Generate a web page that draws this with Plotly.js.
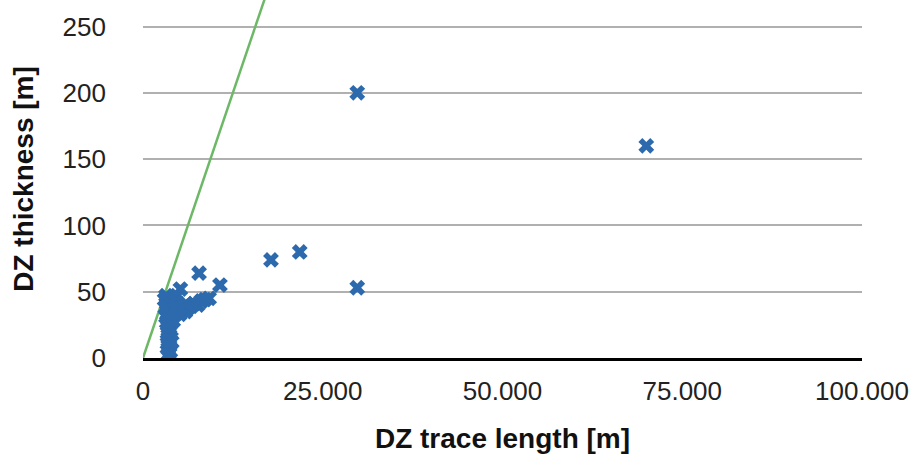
<!DOCTYPE html>
<html>
<head>
<meta charset="utf-8">
<script src="https://cdn.plot.ly/plotly-3.0.1.min.js"></script>
<style>html,body{margin:0;padding:0;background:#fff;}#chart{width:918px;height:459px;}</style>
</head>
<body>
<div id="chart"></div>
<script>
// DZ trace length [m]
const traceLength = [
  3200, 3000, 3500, 3300, 3700, 3100, 3600, 3400, 3800, 3200,
  3600, 3300, 3700, 3500, 3900, 3400, 3700, 3500, 3800, 3400,
  3700, 3500, 3800, 3600, 3400, 4000, 4200, 4500, 4700, 5200,
  4300, 4700, 5100, 5500, 5900, 6300, 6700, 7100, 7600, 8100,
  8600, 9200, 6000, 5000, 4600,
  7800, 10700, 17800, 21800, 29800, 29800, 70000
];
// DZ thickness [m]
const thickness = [
  47, 44, 45, 41, 42, 38, 37, 34, 33, 31,
  29, 27, 25, 23, 21, 19, 17, 15, 13, 11,
  9, 7, 5, 3, 2, 12, 28, 43, 47, 52,
  32, 34, 33, 36, 35, 38, 39, 41, 40, 43,
  44, 45, 41, 38, 39,
  64, 55, 74, 80, 200, 53, 160
];
// reference line
const lineX = [0, 18000];
const lineY = [0, 288];
const xTicks = [0, 25000, 50000, 75000, 100000];
const yTicks = [0, 50, 100, 150, 200, 250];

const font = "'Liberation Sans', Arial, Helvetica, sans-serif";

Plotly.newPlot('chart', [
  {
    x: lineX, y: lineY, type: 'scatter', mode: 'lines',
    line: {color: '#6cb866', width: 2.5}, hoverinfo: 'skip'
  },
  {
    x: traceLength, y: thickness, type: 'scatter', mode: 'markers',
    marker: {symbol: 'x', size: 14, color: '#2d6aad', line: {width: 0}}
  }
], {
  width: 918, height: 459,
  margin: {l: 143, r: 56, t: 0, b: 101},
  showlegend: false,
  paper_bgcolor: '#fff', plot_bgcolor: '#fff',
  separators: ',.',
  font: {family: font, color: '#222', size: 26},
  xaxis: {
    range: [0, 100000], tickvals: xTicks, tickformat: ',d',
    showgrid: false, zeroline: false,
    showline: true, linecolor: '#000', linewidth: 3,
    ticks: '', ticklabelstandoff: 8,
    tickfont: {size: 26, color: '#222'},
    title: {text: 'DZ trace length [m]', font: {size: 28, color: '#111', weight: 'bold'}, standoff: 24}
  },
  yaxis: {
    range: [0, 270], tickvals: yTicks,
    showgrid: true, gridcolor: '#b0b0b0', gridwidth: 2,
    zeroline: false, showline: false, ticks: '',
    ticklabelstandoff: 36,
    tickfont: {size: 26, color: '#222'},
    title: {text: 'DZ thickness [m]', font: {size: 28, color: '#111', weight: 'bold'}, standoff: 20}
  }
}, {staticPlot: true, displayModeBar: false});
</script>
</body>
</html>
